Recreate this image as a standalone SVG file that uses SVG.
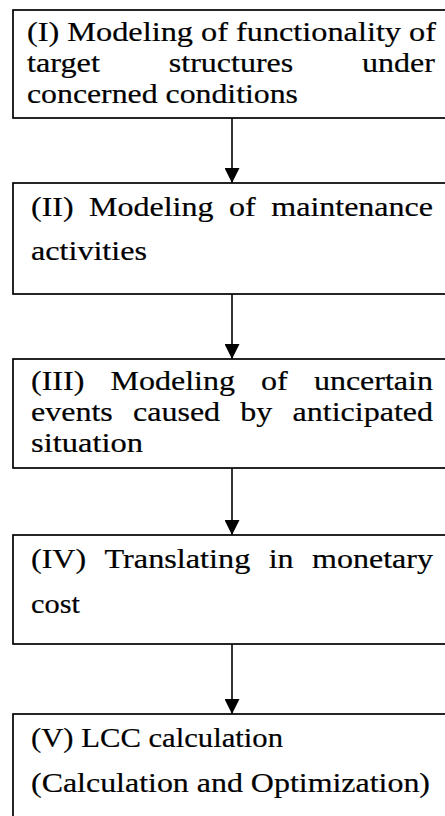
<svg xmlns="http://www.w3.org/2000/svg" width="445" height="816" viewBox="0 0 445 816">
<defs>
<style>
.box{fill:#fff;stroke:#000;stroke-width:1.7}
.t{font-family:"Liberation Serif","Times New Roman",serif;font-size:27px;fill:#000;stroke:#000;stroke-width:0.2}
.ln{stroke:#000;stroke-width:1.6;fill:none}
</style>
<marker id="ah" markerUnits="userSpaceOnUse" markerWidth="16" markerHeight="15" refX="16" refY="8" orient="auto" viewBox="0 0 16 16">
<path d="M0,0 L16,8 L0,16 Z" fill="#000"/>
</marker>
</defs>
<rect width="445" height="816" fill="#fff"/>
<g id="n1">
<rect class="box" x="13" y="10" width="445" height="108"/>
<text class="t" x="27" y="41" textLength="409" lengthAdjust="spacingAndGlyphs">(I) Modeling of functionality of</text>
<text class="t" x="27" y="72" textLength="72.9" lengthAdjust="spacingAndGlyphs">target</text>
<text class="t" x="168.8" y="72" textLength="124.4" lengthAdjust="spacingAndGlyphs">structures</text>
<text class="t" x="362.1" y="72" textLength="72.9" lengthAdjust="spacingAndGlyphs">under</text>
<text class="t" x="27" y="103" textLength="271" lengthAdjust="spacingAndGlyphs">concerned conditions</text>
</g>
<g id="n2">
<rect class="box" x="13" y="183" width="445" height="111"/>
<text class="t" x="31" y="216" textLength="42.6" lengthAdjust="spacingAndGlyphs">(II)</text>
<text class="t" x="89.1" y="216" textLength="124.4" lengthAdjust="spacingAndGlyphs">Modeling</text>
<text class="t" x="229" y="216" textLength="26.7" lengthAdjust="spacingAndGlyphs">of</text>
<text class="t" x="271.3" y="216" textLength="161.7" lengthAdjust="spacingAndGlyphs">maintenance</text>
<text class="t" x="31" y="260" textLength="116" lengthAdjust="spacingAndGlyphs">activities</text>
</g>
<g id="n3">
<rect class="box" x="13" y="359" width="445" height="109"/>
<text class="t" x="31" y="390" textLength="53.3" lengthAdjust="spacingAndGlyphs">(III)</text>
<text class="t" x="110.5" y="390" textLength="124.4" lengthAdjust="spacingAndGlyphs">Modeling</text>
<text class="t" x="261.1" y="390" textLength="26.7" lengthAdjust="spacingAndGlyphs">of</text>
<text class="t" x="313.9" y="390" textLength="119.1" lengthAdjust="spacingAndGlyphs">uncertain</text>
<text class="t" x="31" y="421" textLength="81.8" lengthAdjust="spacingAndGlyphs">events</text>
<text class="t" x="133" y="421" textLength="87.1" lengthAdjust="spacingAndGlyphs">caused</text>
<text class="t" x="240.3" y="421" textLength="32" lengthAdjust="spacingAndGlyphs">by</text>
<text class="t" x="292.6" y="421" textLength="140.4" lengthAdjust="spacingAndGlyphs">anticipated</text>
<text class="t" x="31" y="452" textLength="112" lengthAdjust="spacingAndGlyphs">situation</text>
</g>
<g id="n4">
<rect class="box" x="13" y="535" width="445" height="109"/>
<text class="t" x="31" y="568" textLength="55.1" lengthAdjust="spacingAndGlyphs">(IV)</text>
<text class="t" x="104.5" y="568" textLength="145.8" lengthAdjust="spacingAndGlyphs">Translating</text>
<text class="t" x="268.7" y="568" textLength="24.9" lengthAdjust="spacingAndGlyphs">in</text>
<text class="t" x="312.1" y="568" textLength="120.9" lengthAdjust="spacingAndGlyphs">monetary</text>
<text class="t" x="31" y="613" textLength="49" lengthAdjust="spacingAndGlyphs">cost</text>
</g>
<g id="n5">
<rect class="box" x="13" y="714" width="445" height="120"/>
<text class="t" x="31" y="747" textLength="252" lengthAdjust="spacingAndGlyphs">(V) LCC calculation</text>
<text class="t" x="31" y="792" textLength="399" lengthAdjust="spacingAndGlyphs">(Calculation and Optimization)</text>
</g>
<g id="connectors">
<line class="ln" x1="232" y1="118" x2="232" y2="183" marker-end="url(#ah)"/>
<line class="ln" x1="232" y1="294" x2="232" y2="359" marker-end="url(#ah)"/>
<line class="ln" x1="232" y1="468" x2="232" y2="535" marker-end="url(#ah)"/>
<line class="ln" x1="232" y1="644" x2="232" y2="714" marker-end="url(#ah)"/>
</g>
</svg>
